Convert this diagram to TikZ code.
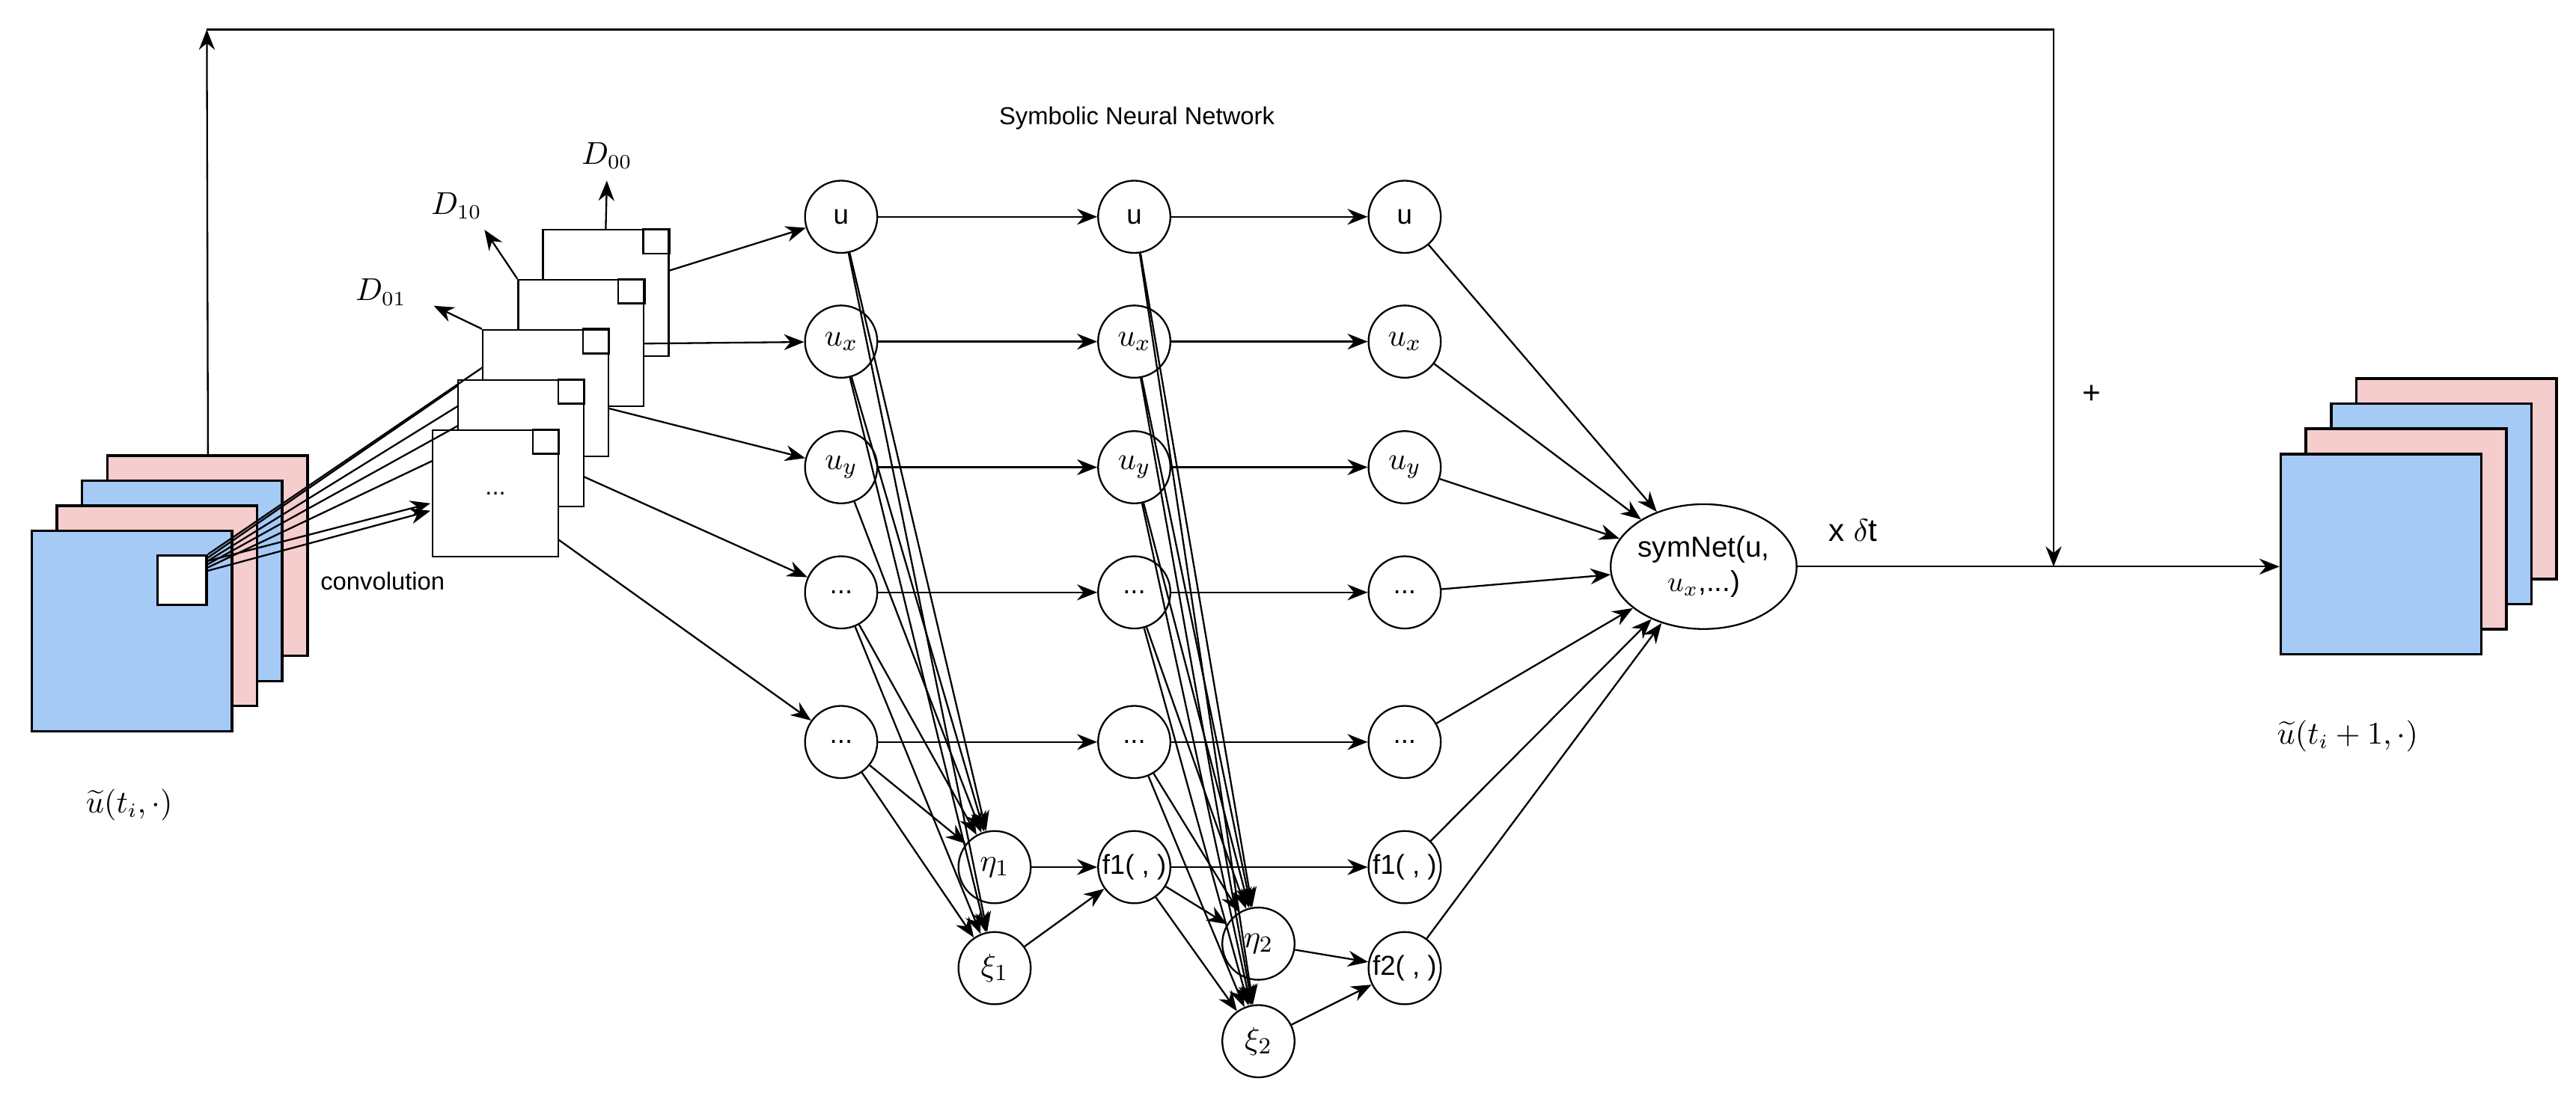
\documentclass[tikz,border=0pt]{standalone}
\usepackage{fontspec}
\setmainfont{Liberation Sans}
\usetikzlibrary{arrows.meta,shapes.geometric,calc}
\definecolor{sqblue}{RGB}{166,202,246}
\definecolor{sqpink}{RGB}{245,205,205}
\begin{document}
\begin{tikzpicture}[x=0.02cm,y=-0.02cm,
  line width=0.6pt,
  arr/.style={-{Stealth[length=7pt,width=5.5pt]}},
  nd/.style={circle,draw,fill=white,minimum size=0.88cm,inner sep=0pt,font=\fontsize{9.5}{11}\selectfont},
  mnd/.style={nd,font=\fontsize{11}{12}\selectfont},
  big/.style={draw,line width=0.9pt,minimum width=2.44cm,minimum height=2.44cm,inner sep=0pt},
  filt/.style={draw,fill=white,minimum width=1.53cm,minimum height=1.54cm,inner sep=0pt,font=\fontsize{8.5}{10}\selectfont},
  lab/.style={font=\fontsize{8.5}{10}\selectfont},
  mlab/.style={font=\fontsize{10.5}{12}\selectfont}]
\useasboundingbox (0,0) rectangle (1568,672.4);
% input stack
\node[big,fill=sqpink] (P1) at (126.25,338.35) {};
\node[big,fill=sqblue] (B2) at (110.8,353.7) {};
\node[big,fill=sqpink] (P2) at (95.55,368.9) {};
\node[big,fill=sqblue] (B1) at (80.3,384.3) {};
\node[draw,fill=white,line width=0.9pt,minimum size=0.6cm,inner sep=0pt] (W) at (110.8,353.3) {};
\node[mlab] (lin) at (78.7,490) {$\widetilde{u}(t_i,\cdot)$};
% loop
\coordinate (top1) at (125.9,18);
\coordinate (top2) at (1250,18);
\coordinate (J) at (1250,345);
\draw[arr] (P1.north -| W.east) -- (top1);
\draw[arr] (top1) -- (top2) -- (J);
% filters
\node[filt] (F1) at (368.75,178.3) {};
\node[filt] (F2) at (353.65,208.8) {};
\node[filt] (F3) at (332.1,239.3) {};
\node[filt] (F4) at (317.0,269.85) {};
\node[filt] (F5) at (301.6,300.35) {...};
\foreach \f in {F1,F2,F3,F4,F5}{\draw (\f.north east) rectangle +(-16,15);}
% D labels
\node[mlab] (D00) at (369.4,94.7) {$D_{00}$};
\node[mlab] (D10) at (277.8,125.2) {$D_{10}$};
\node[mlab] (D01) at (231.9,177.9) {$D_{01}$};
\coordinate (d00) at (369.4,110);
\coordinate (d10) at (294.9,139.9);
\coordinate (d01) at (264,186.2);
\draw[arr] (368.7,139.9) -- (d00);
\draw[arr] (F2.north west) -- (d10);
\draw[arr] (F3.north west) -- (d01);
% convolution fan
\coordinate (src) at (W.north east);
\coordinate (c1) at (293.9,223.6);
\coordinate (c2) at (278.8,234.7);
\coordinate (c3) at (278.8,247.2);
\coordinate (c4) at (278.8,259.2);
\coordinate (c5) at (263.4,280.5);
\coordinate (c6) at (262,306.5);
\coordinate (c7) at (262,311);
\foreach \c/\d in {c1/2,c2/4,c3/6,c4/8,c5/10}{\draw ($(src)+(0,\d-2)$) -- (\c);}
\draw[arr] ([yshift=-0.08cm]src) -- (c6);
\draw[arr] ([yshift=-0.2cm]src) -- (c7);
\node[lab] (conv) at (232.9,354) {convolution};
% network nodes
\node[nd] (A1) at (512,132) {u};
\node[mnd] (A2) at (512,208) {$u_x$};
\node[mnd] (A3) at (512,284.5) {$u_y$};
\node[nd] (A4) at (512,360.7) {...};
\node[nd] (A5) at (512,451.8) {...};
\node[mnd] (E1) at (605.4,528) {$\eta_1$};
\node[mnd] (X1) at (605.4,589.5) {$\xi_1$};
\node[nd] (B1n) at (690.4,132) {u};
\node[mnd] (B2n) at (690.4,208) {$u_x$};
\node[mnd] (B3n) at (690.4,284.5) {$u_y$};
\node[nd] (B4n) at (690.4,360.7) {...};
\node[nd] (B5n) at (690.4,451.8) {...};
\node[nd] (G1) at (690.4,528) {f1( , )};
\node[mnd] (E2) at (766,574.6) {$\eta_2$};
\node[mnd] (X2) at (766,634) {$\xi_2$};
\node[nd] (C1) at (855,132) {u};
\node[mnd] (C2) at (855,208) {$u_x$};
\node[mnd] (C3) at (855,284.5) {$u_y$};
\node[nd] (C4) at (855,360.7) {...};
\node[nd] (C5) at (855,451.8) {...};
\node[nd] (H1) at (855,528) {f1( , )};
\node[nd] (H2) at (855,589.5) {f2( , )};
\node[ellipse,draw,minimum width=1.84cm,minimum height=1.52cm,inner sep=0pt,align=center,font=\fontsize{10}{12}\selectfont] (S) at (1037,345) {symNet(u,\\$u_x$,...)};
% filter outputs
\draw[arr] (407.3,164.8) -- (A1);
\draw[arr] (391.9,209.2) -- (A2);
\draw[arr] (370.3,248.6) -- (A3);
\draw[arr] (355.2,290.2) -- (A4);
\draw[arr] (339.8,328.5) -- (A5);
% layer links
\foreach \i in {1,2,3,4,5}{\draw[arr] (A\i) -- (B\i n); \draw[arr] (B\i n) -- (C\i);}
\foreach \i in {1,2,3,4,5}{\draw[arr] (A\i) -- (E1);}
\foreach \i in {1,2,4,5}{\draw[arr] (A\i) -- (X1);}
\foreach \i in {1,2,3,4,5}{\draw[arr] (B\i n) -- (E2); \draw[arr] (B\i n) -- (X2);}
\draw[arr] (G1) -- (E2);
\draw[arr] (G1) -- (X2);
\draw[arr] (E1) -- (G1);
\draw[arr] (X1) -- (G1);
\draw[arr] (G1) -- (H1);
\draw[arr] (E2) -- (H2);
\draw[arr] (X2) -- (H2);
\foreach \n in {C1,C2,C3,C4,C5,H1,H2}{\draw[arr] (\n) -- (S);}
% output stack
\node[big,fill=sqpink] (RP1) at (1495.2,291.5) {};
\node[big,fill=sqblue] (RB2) at (1479.9,306.8) {};
\node[big,fill=sqpink] (RP2) at (1464.6,322.1) {};
\node[big,fill=sqblue] (RB1) at (1449.3,337.4) {};
\node[mlab] (lout) at (1429,448) {$\widetilde{u}(t_i+1,\cdot)$};
\draw[arr] (S.east) -- (S.east -| RB1.west);
\node[lab] (title) at (692,72) {Symbolic Neural Network};
\node[font=\fontsize{11}{12}\selectfont] (plus) at (1273.4,240) {+};
\node[font=\fontsize{11}{12}\selectfont] (dt) at (1128,323) {x $\delta$t};
\end{tikzpicture}
\end{document}
